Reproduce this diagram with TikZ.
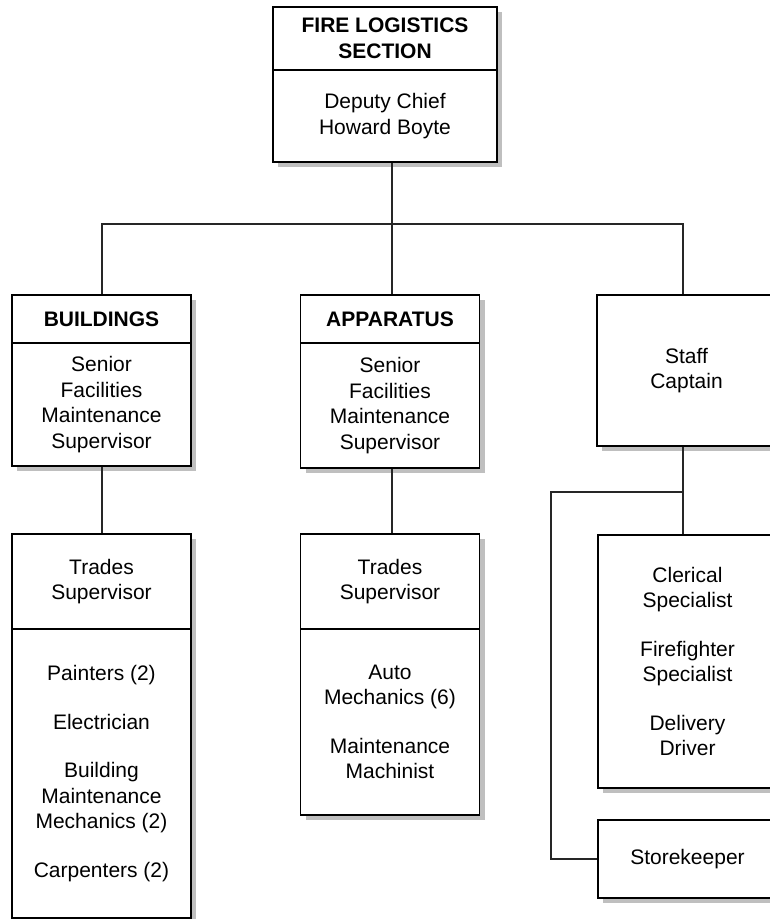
\documentclass[tikz,border=0pt]{standalone}
\usepackage{fontspec}
\setmainfont{Liberation Sans}
\usetikzlibrary{shapes,shadows,positioning}

\begin{document}
\begin{tikzpicture}[x=1pt, y=-1pt]
				\tikzstyle{Box}		= [draw, rectangle, fill=white, line width=1.2pt, inner sep=0pt, align=center, font=\fontsize{21}{25.5}\selectfont, drop shadow={shadow xshift=5pt, shadow yshift=-5pt, fill=black!25, opacity=1}]
				\tikzstyle{Head}	= [font=\fontsize{21}{25.5}\selectfont\bfseries]
				\tikzstyle{Narrow}	= [minimum width=179pt]
				\tikzstyle{Link}	= [line width=1.2pt, black!85]
				
				\useasboundingbox (0, 0) rectangle (770, 919);
				
				\node (fh) at (385, 38.5) [Box][Head][minimum width=224pt, minimum height=63pt] {FIRE LOGISTICS\\SECTION};
				\node (fb) at (385, 116) [Box][minimum width=224pt, minimum height=92pt] {Deputy Chief\\Howard Boyte};
				
				\node (bh) at (101.5, 319) [Box][Head][Narrow, minimum height=48pt] {BUILDINGS};
				\node (bb) at (101.5, 404.5) [Box][Narrow, minimum height=123pt] {Senior\\Facilities\\Maintenance\\Supervisor};
				
				\node (ah) at (390, 319) [Box][Head][Narrow, minimum height=48pt] {APPARATUS};
				\node (ab) at (390, 405.5) [Box][Narrow, minimum height=125pt] {Senior\\Facilities\\Maintenance\\Supervisor};
				
				\node (sc) at (686.5, 370.5) [Box][Narrow, minimum height=151pt] {Staff\\Captain};
				
				\node (th1) at (101.5, 581.5) [Box][Narrow, minimum height=95pt] {Trades\\Supervisor};
				\node (tb1) at (101.5, 773.5) [Box][Narrow, minimum height=289pt] {Painters (2)\\[23pt]Electrician\\[23pt]Building\\Maintenance\\Mechanics (2)\\[23pt]Carpenters (2)};
				
				\node (th2) at (390, 581.5) [Box][Narrow, minimum height=95pt] {Trades\\Supervisor};
				\node (tb2) at (390, 722) [Box][Narrow, minimum height=186pt] {Auto\\Mechanics (6)\\[23pt]Maintenance\\Machinist};
				
				\node (cs) at (687.5, 661.5) [Box][Narrow, minimum height=253pt] {Clerical\\Specialist\\[23pt]Firefighter\\Specialist\\[23pt]Delivery\\Driver};
				
				\node (sk) at (687.5, 859) [Box][Narrow, minimum height=78pt] {Storekeeper};
				
				\coordinate (jt) at (392, 224);
				\coordinate (jl) at (102, 224);
				\coordinate (jr) at (683, 224);
				\coordinate (js) at (683, 492);
				\coordinate (jk) at (551, 492);
				
				\draw [-] (fb.south -| jt) to (jt) [Link];
				\draw [-] (bh.north -| jl) |- (jr) -- (sc.north -| jr) [Link];
				\draw [-] (ah.north -| jt) to (jt) [Link];
				\draw [-] (bb.south -| jl) to (th1.north -| jl) [Link];
				\draw [-] (ab.south -| jt) to (th2.north -| jt) [Link];
				\draw [-] (sc.south -| jr) to (cs.north -| jr) [Link];
				\draw [-] (js) -- (jk) |- (sk.west) [Link];
			\end{tikzpicture}
\end{document}
